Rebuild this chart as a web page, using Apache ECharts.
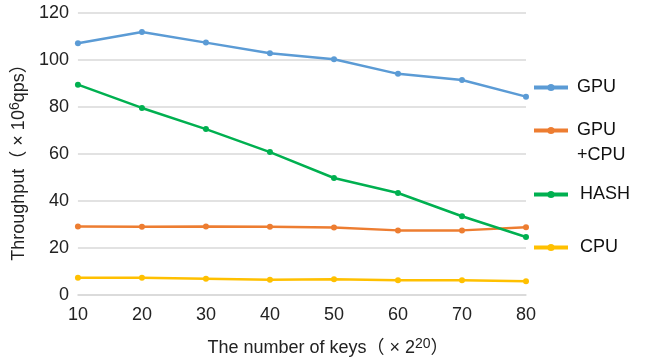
<!DOCTYPE html>
<html><head><meta charset="utf-8">
<script src="https://cdn.jsdelivr.net/npm/echarts@6/dist/echarts.min.js"></script>
<style>html,body{margin:0;padding:0;background:#fff}#c{width:645px;height:362px}</style>
</head><body><div id="c"></div>
<script>
var categories = ['10','20','30','40','50','60','70','80'];
var gpu    = [107.1, 111.9, 107.4, 102.9, 100.3, 94.1, 91.5, 84.4];
var gpucpu = [29.2, 29.0, 29.2, 29.0, 28.7, 27.5, 27.5, 28.8];
var hash   = [89.5, 79.6, 70.6, 60.8, 49.8, 43.4, 33.5, 24.7];
var cpu    = [7.3, 7.3, 6.9, 6.5, 6.7, 6.3, 6.3, 5.9];
var seriesNames = ['GPU', 'GPU\n+CPU', 'HASH', 'CPU'];
var colors = ['#5B9BD5', '#ED7D31', '#00B050', '#FFC000'];
var yTicks = [0, 20, 40, 60, 80, 100, 120];

var font = '"Liberation Sans", "Noto Sans CJK JP", sans-serif';
var chart = echarts.init(document.getElementById('c'));
function mk(name, data, color) {
  return { name: name, type: 'line', data: data, symbol: 'circle', symbolSize: 6,
    lineStyle: { width: 2.5, color: color }, itemStyle: { color: color }, z: 3 };
}
function lg(name, top, padLeft, fmt) {
  var o = { data: [name], orient: 'vertical', left: 527, top: top, itemWidth: 34, itemHeight: 9, itemGap: 0,
    lineStyle: { width: 4 },
    textStyle: { fontFamily: font, fontSize: 18, color: '#111', lineHeight: 25, padding: [0, 0, 0, padLeft] } };
  if (fmt) o.formatter = fmt;
  return o;
}
chart.setOption({
  animation: false,
  color: colors,
  grid: { left: 77, right: 119, top: 13, bottom: 66 },
  legend: [
    lg('GPU', 70, 4),
    lg('GPU\n+CPU', 88, 4, function (n) { return '\n' + n; }),
    lg('HASH', 177, 7),
    lg('CPU', 230, 7)
  ],
  xAxis: {
    type: 'category', data: categories, boundaryGap: false,
    axisLine: { show: true, lineStyle: { color: '#d9d9d9', width: 1.5 } },
    axisTick: { show: false },
    axisLabel: { fontFamily: font, fontSize: 18, color: '#222', margin: 11 },
    name: 'The number of keys（ × 2{sup|20}）', nameLocation: 'middle', nameGap: 42,
    nameTextStyle: { fontFamily: font, fontSize: 18, color: '#222', padding: [0, 0, 0, 52],
      rich: { sup: { fontFamily: font, fontSize: 14, color: '#222', padding: [0, 0, 8, 0] } } }
  },
  yAxis: {
    type: 'value', min: 0, max: 120, interval: 20,
    axisLine: { show: false }, axisTick: { show: false },
    splitLine: { lineStyle: { color: '#d9d9d9', width: 1.5 } },
    axisLabel: { fontFamily: font, fontSize: 18, color: '#222', margin: 9 },
    name: 'Throughput（ × 10{sup|6}qps）', nameLocation: 'middle', nameGap: 32,
    nameTextStyle: { fontFamily: font, fontSize: 18, color: '#222', padding: [0, 8, 0, 0],
      rich: { sup: { fontFamily: font, fontSize: 14, color: '#222', padding: [0, 0, 8, 0] } } }
  },
  series: [mk(seriesNames[0], gpu, colors[0]), mk(seriesNames[1], gpucpu, colors[1]),
           mk(seriesNames[2], hash, colors[2]), mk(seriesNames[3], cpu, colors[3])]
});
</script></body></html>
